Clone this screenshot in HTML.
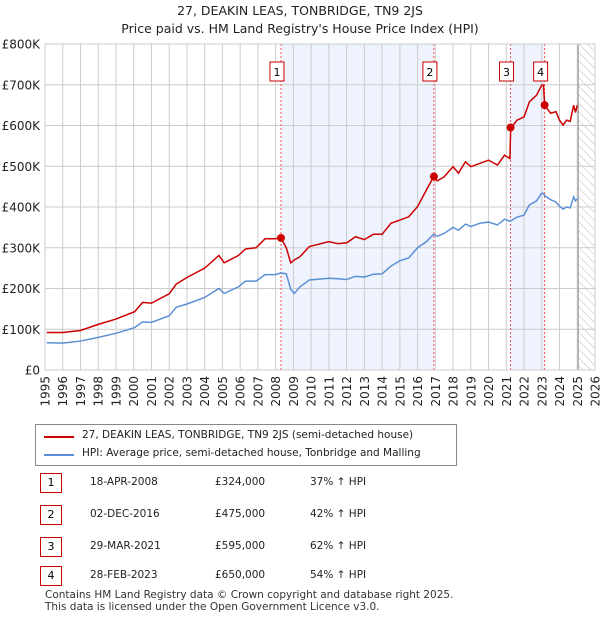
<!DOCTYPE html>
<html><head><meta charset="utf-8"><style>
body{margin:0;background:#fff;font-family:"DejaVu Sans","Liberation Sans",sans-serif;}
#wrap{position:relative;width:600px;height:620px;overflow:hidden;}
.t{position:absolute;font-size:12px;color:#222;white-space:nowrap;}
.box{position:absolute;width:20px;height:18px;border:1px solid #c00;font-size:11px;text-align:center;line-height:18px;color:#000;}
</style></head><body><div id="wrap">
<div class="t" style="left:0;width:600px;text-align:center;top:3px;font-size:12.5px">27, DEAKIN LEAS, TONBRIDGE, TN9 2JS</div>
<div class="t" style="left:0;width:600px;text-align:center;top:21px;font-size:12.5px">Price paid vs. HM Land Registry's House Price Index (HPI)</div>
<svg id="svg" width="600" height="420" style="position:absolute;left:0;top:0"></svg>
<div style="position:absolute;left:35px;top:424px;width:420px;height:40px;border:1px solid #888;">
<div style="position:absolute;left:8px;top:11px;width:30px;height:2px;background:#c00"></div>
<div class="t" style="left:46px;top:4px;font-size:10.5px">27, DEAKIN LEAS, TONBRIDGE, TN9 2JS (semi-detached house)</div>
<div style="position:absolute;left:8px;top:29px;width:30px;height:2px;background:#5b8fd6"></div>
<div class="t" style="left:46px;top:22px;font-size:10.5px">HPI: Average price, semi-detached house, Tonbridge and Malling</div>
</div>
<div id="tbl"></div>
<div class="t" style="left:45px;top:589px;font-size:10.5px;line-height:12px;color:#333">Contains HM Land Registry data © Crown copyright and database right 2025.<br>This data is licensed under the Open Government Licence v3.0.</div>
</div>
<script>
const years=[1995.1,1996.0,1997.0,1998.0,1999.0,2000.05,2000.5,2001.0,2002.0,2002.4,2003.0,2004.0,2004.8,2005.1,2005.9,2006.3,2006.9,2007.4,2007.95,2008.3,2008.6,2008.85,2009.05,2009.37,2009.9,2011.0,2011.5,2012.0,2012.5,2013.0,2013.5,2014.0,2014.5,2015.0,2015.5,2016.0,2016.5,2016.9,2017.1,2017.5,2018.0,2018.3,2018.7,2019.0,2019.5,2020.0,2020.5,2020.9,2021.2,2021.25,2021.6,2022.0,2022.3,2022.7,2023.0,2023.1,2023.16,2023.5,2023.8,2024.0,2024.2,2024.4,2024.6,2024.8,2024.9,2025.0];
const hpi=[67,66,71,80,90,104,118,117,133,154,162,178,200,188,204,218,218,234,234,238,236,198,188,204,221,225,224,222,230,228,235,236,255,268,275,300,315,333,328,335,350,343,358,352,360,363,356,370,365,366,375,380,405,415,434,433,428,418,412,402,395,400,398,425,415,420];
const price=[92,92,97,112,125,143,166,164,187,211,227,250,281,263,281,297,300,322,322,324,300,263,270,278,303,315,310,312,327,320,333,333,360,368,376,401,442,474,464,474,499,483,511,499,507,515,503,527,519,593,613,621,658,674,699,699,650,630,634,613,601,613,610,650,632,650];
const saleYears=[2008.3,2016.92,2021.24,2023.16];
const saleValues=[324,475,595,650];
const saleLabels=["1","2","3","4"];
const saleDates=["18-APR-2008","02-DEC-2016","29-MAR-2021","28-FEB-2023"];
const salePrices=["£324,000","£475,000","£595,000","£650,000"];
const saleHpi=["37% ↑ HPI","42% ↑ HPI","62% ↑ HPI","54% ↑ HPI"];
const yTicks=[0,100,200,300,400,500,600,700,800];
const yTickLabels=["£0","£100K","£200K","£300K","£400K","£500K","£600K","£700K","£800K"];
const x0=45,x1=595,y0=370,y1=44;
const X=y=>x0+(y-1995)/31*(x1-x0);
const Y=v=>y0-v/800*(y0-y1);
const svg=document.getElementById('svg');const NS='http://www.w3.org/2000/svg';
function mk(tag,a,p){const e=document.createElementNS(NS,tag);for(const k in a)e.setAttribute(k,a[k]);(p||svg).appendChild(e);return e;}
let d=mk('defs',{});let pat=mk('pattern',{id:'h',width:6,height:6,patternUnits:'userSpaceOnUse',patternTransform:'rotate(-45)'},d);mk('line',{x1:0,y1:0,x2:0,y2:6,stroke:'#bbb','stroke-width':1},pat);
let s;
s=mk('rect',{x:X(saleYears[0]),y:y1,width:X(saleYears[1])-X(saleYears[0]),height:y0-y1,fill:'#eef3fd'});

s=mk('rect',{x:X(saleYears[2]),y:y1,width:X(saleYears[3])-X(saleYears[2]),height:y0-y1,fill:'#eef3fd'});

s=mk('rect',{x:X(2025.05),y:y1,width:x1-X(2025.05),height:y0-y1,fill:'url(#h)'});

for(let yr=1995;yr<=2026;yr++){mk('line',{x1:X(yr),x2:X(yr),y1:y1,y2:y0,stroke:'#ccc'});
let t=mk('text',{x:0,y:0,transform:`translate(${X(yr)+4.5},${y0+6}) rotate(-90)`,'text-anchor':'end','font-size':12,fill:'#222','font-family':'DejaVu Sans'});t.textContent=yr;
}
yTicks.forEach((v,i)=>{mk('line',{x1:x0,x2:x1,y1:Y(v),y2:Y(v),stroke:'#ccc'});
let t=mk('text',{x:x0-5,y:Y(v)+4.5,'text-anchor':'end','font-size':12,fill:'#222','font-family':'DejaVu Sans'});t.textContent=yTickLabels[i];
});
mk('line',{x1:X(2025.05),x2:X(2025.05),y1:y1,y2:y0,stroke:'#888'});
saleYears.forEach((yr,i)=>{mk('line',{x1:X(yr),x2:X(yr),y1:y1,y2:y0,stroke:'#e55','stroke-dasharray':'2,2'});});
let l=mk('polyline',{points:years.map((y,i)=>X(y)+','+Y(hpi[i])).join(' '),fill:'none',stroke:'#5b8fd6','stroke-width':1.5});

l=mk('polyline',{points:years.map((y,i)=>X(y)+','+Y(price[i])).join(' '),fill:'none',stroke:'#c00','stroke-width':1.5});

saleYears.forEach((yr,i)=>{let c=mk('circle',{cx:X(yr),cy:Y(saleValues[i]),r:4,fill:'#c00'});

let r=mk('rect',{x:X(yr)-11,y:62,width:14,height:19,fill:'#fff',stroke:'#c00'});
let t=mk('text',{x:X(yr)-4,y:76,'text-anchor':'middle','font-size':11,fill:'#000','font-family':'DejaVu Sans'});t.textContent=saleLabels[i];
});
mk('rect',{x:x0,y:y1,width:x1-x0,height:y0-y1,fill:'none',stroke:'#ccc'});
const tbl=document.getElementById('tbl');const rowsY=[473,505,537,566];
saleLabels.forEach((lb,i)=>{const y=rowsY[i];
let b=document.createElement('div');b.className='box';b.style.left='40px';b.style.top=y+'px';b.textContent=lb;

tbl.appendChild(b);
[[90,saleDates[i]],[215,salePrices[i]],[310,saleHpi[i]]].forEach(([x,tx])=>{let e=document.createElement('div');e.className='t';e.style.left=x+'px';e.style.top=(y+3)+'px';e.style.fontSize='10.5px';e.textContent=tx;

tbl.appendChild(e);});});
</script></body></html>
